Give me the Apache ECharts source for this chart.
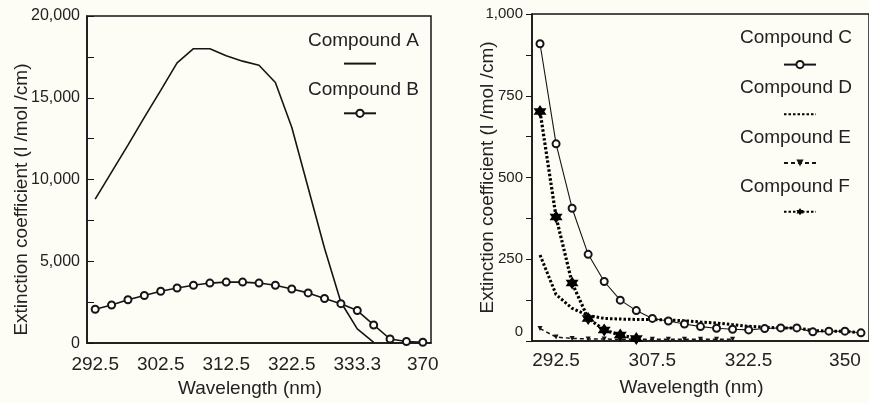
<!DOCTYPE html>
<html>
<head>
<meta charset="utf-8">
<script src="https://cdn.jsdelivr.net/npm/echarts@6/dist/echarts.min.js"></script>
<style>
  html, body { margin: 0; background: #fdfdf6; }
  #chart { width: 869px; height: 403px; }
</style>
</head>
<body>
<div id="chart"></div>
<script>
// left panel
const wavelengthsAB = ['292.5', '295', '297.5', '300', '302.5', '305', '307.5', '310', '312.5', '315', '317.5',
  '320', '322.5', '325', '327.5', '330', '333.3', '340', '350', '360', '370'];
const compoundA = [8800, 10450, 12100, 13800, 15450, 17130, 18000, 18000, 17570, 17240, 16990,
  15930, 13200, 9500, 5800, 2500, 870, 50, null, null, null];
const compoundB = [2070, 2330, 2650, 2910, 3170, 3370, 3540, 3670, 3730, 3730, 3670,
  3540, 3310, 3070, 2730, 2410, 1990, 1110, 250, 100, 50];

// right panel
const wavelengthsCF = ['290', '292.5', '295', '297.5', '300', '302.5', '305', '307.5', '310', '312.5', '315',
  '317.5', '320', '322.5', '325', '327.5', '330', '333.3', '340', '350', '360'];
const compoundC = [909, 603, 406, 265, 182, 125, 93, 69, 61, 52, 44, 39, 36, 34, 38, 40, 40, 28, 30, 30, 25];
const compoundD = [263, 142, 100, 78, 69, 67, 66, 66, 64, 62, 58, 55, 50, 45, 42, 40, 40, 32, 30, 30, 25];
const compoundE = [38, 12, 8, 6, 6, 5, 5, 5, 5, 5, 5, 5, 5, null, null, null, null, null, null, null, null];
const compoundF = [702, 379, 177, 69, 34, 18, 8, null, null, null, null, null, null, null, null, null, null, null, null, null, null];

const font = 'Liberation Sans, Arial, sans-serif';
const ink = '#151515';
const star = 'path://M0,-10L2.89,-5L8.66,-5L5.77,0L8.66,5L2.89,5L0,10L-2.89,5L-8.66,5L-5.77,0L-8.66,-5L-2.89,-5Z';

const chart = echarts.init(document.getElementById('chart'));

function fmt(v) {
  return v.toString().replace(/\B(?=(\d{3})+(?!\d))/g, ',');
}

const textLegend = (left, top, gap, names) => ({
  left: left, top: top, orient: 'vertical', itemWidth: 0, itemHeight: 0, itemGap: gap,
  selectedMode: false, data: names,
  textStyle: { fontFamily: font, fontSize: 19, lineHeight: 20, color: '#222' }
});
const iconLegend = (left, top, gap, names) => ({
  left: left, top: top, orient: 'vertical', itemWidth: 32, itemHeight: 9, itemGap: gap,
  selectedMode: false, formatter: () => '',
  // lines without markers get no dot in their key
  data: names.map((n) => (n === 'Compound A' || n === 'Compound D' ? { name: n, itemStyle: { opacity: 0 } } : n)),
  textStyle: { fontSize: 9, lineHeight: 9 }
});

chart.setOption({
  backgroundColor: '#fdfdf6',
  animation: false,
  grid: [
    { left: 87, top: 16, right: 438, bottom: 55, show: true, borderColor: ink, borderWidth: 1.5 },
    { left: 532, top: 14, right: -1, bottom: 62, show: true, borderColor: ink, borderWidth: 1.5 }
  ],
  legend: [
    textLegend(297, 26, 29, ['Compound A', 'Compound B']),
    iconLegend(338, 55, 41.5, ['Compound A', 'Compound B']),
    textLegend(729, 23, 29.7, ['Compound C', 'Compound D', 'Compound E', 'Compound F']),
    iconLegend(778, 55, 41.5, ['Compound C', 'Compound D', 'Compound E', 'Compound F'])
  ],
  xAxis: [
    {
      type: 'category', gridIndex: 0, data: wavelengthsAB, boundaryGap: true,
      axisLine: { lineStyle: { color: ink, width: 1.5 } },
      axisTick: { inside: true, length: 8, interval: 3, alignWithLabel: true, lineStyle: { color: ink } },
      axisLabel: { interval: 3, margin: 12, fontFamily: font, fontSize: 19, color: '#222' },
      name: 'Wavelength (nm)', nameLocation: 'middle', nameGap: 30,
      nameTextStyle: { fontFamily: font, fontSize: 19, color: '#222', padding: [0, 18, 0, 0] }
    },
    {
      type: 'category', gridIndex: 0, data: wavelengthsAB, boundaryGap: true, position: 'bottom',
      axisLine: { show: false },
      axisTick: { inside: true, length: 4, interval: 0, alignWithLabel: true, lineStyle: { color: ink } },
      axisLabel: { show: false }
    },
    {
      type: 'category', gridIndex: 1, data: wavelengthsCF, boundaryGap: true,
      axisLine: { lineStyle: { color: ink, width: 1.5 } },
      axisTick: { inside: true, length: 7, interval: (i) => i % 6 === 1, alignWithLabel: true, lineStyle: { color: ink } },
      axisLabel: { interval: (i) => i % 6 === 1, margin: 10, fontFamily: font, fontSize: 19, color: '#222' },
      name: 'Wavelength (nm)', nameLocation: 'middle', nameGap: 37,
      nameTextStyle: { fontFamily: font, fontSize: 19, color: '#222', padding: [0, 18, 0, 0] }
    },
    {
      type: 'category', gridIndex: 1, data: wavelengthsCF, boundaryGap: true, position: 'bottom',
      axisLine: { show: false },
      axisTick: { inside: true, length: 4, interval: 0, alignWithLabel: true, lineStyle: { color: ink } },
      axisLabel: { show: false }
    }
  ],
  yAxis: [
    {
      type: 'value', gridIndex: 0, min: 0, max: 20000, interval: 2500,
      splitLine: { show: false },
      axisLine: { show: true, lineStyle: { color: ink, width: 1.5 } },
      axisTick: { show: true, inside: true, length: 7, lineStyle: { color: ink } },
      axisLabel: {
        margin: 7, fontFamily: font, fontSize: 16, color: '#222',
        formatter: (v) => (v % 5000 === 0 ? fmt(v) : '')
      },
      name: 'Extinction coefficient (l /mol /cm)', nameLocation: 'middle', nameGap: 56, nameMoveOverlap: false,
      nameTextStyle: { fontFamily: font, fontSize: 19, color: '#222', padding: [0, 40, 0, 0] }
    },
    {
      type: 'value', gridIndex: 1, min: 0, max: 1000, interval: 125,
      splitLine: { show: false },
      axisLine: { show: true, lineStyle: { color: ink, width: 1.5 } },
      axisTick: { show: true, inside: false, length: 6, lineStyle: { color: ink } },
      axisLabel: {
        margin: 9, fontFamily: font, fontSize: 15, color: '#222',
        formatter: (v) => (v === 0 ? '{z|0}' : v % 250 === 0 ? fmt(v) : ''),
        rich: { z: { fontFamily: font, fontSize: 15, color: '#222', padding: [0, 0, 18, 0] } }
      },
      name: 'Extinction coefficient (l /mol /cm)', nameLocation: 'middle', nameGap: 35, nameMoveOverlap: false,
      nameTextStyle: { fontFamily: font, fontSize: 19, color: '#222' }
    }
  ],
  series: [
    {
      name: 'Compound A', type: 'line', xAxisIndex: 0, yAxisIndex: 0, data: compoundA,
      symbol: 'none', color: ink, lineStyle: { color: ink, width: 1.6 }
    },
    {
      name: 'Compound B', type: 'line', xAxisIndex: 0, yAxisIndex: 0, data: compoundB,
      symbol: 'emptyCircle', symbolSize: 7, showAllSymbol: true, color: ink,
      lineStyle: { color: ink, width: 1.6 }, itemStyle: { borderWidth: 1.2 }
    },
    {
      name: 'Compound C', type: 'line', xAxisIndex: 2, yAxisIndex: 1, data: compoundC,
      symbol: 'emptyCircle', symbolSize: 7, showAllSymbol: true, color: ink,
      lineStyle: { color: ink, width: 1.1 }, itemStyle: { borderWidth: 1 }
    },
    {
      name: 'Compound D', type: 'line', xAxisIndex: 2, yAxisIndex: 1, data: compoundD,
      symbol: 'none', color: '#000', lineStyle: { color: '#000', width: 3, type: [2.5, 2] }
    },
    {
      name: 'Compound E', type: 'line', xAxisIndex: 2, yAxisIndex: 1, data: compoundE,
      symbol: 'triangle', symbolRotate: 180, symbolSize: 5, showAllSymbol: true, color: ink,
      lineStyle: { color: ink, width: 1.5, type: [4, 3] }
    },
    {
      name: 'Compound F', type: 'line', xAxisIndex: 2, yAxisIndex: 1, data: compoundF,
      symbol: star, symbolSize: 13, showAllSymbol: true, color: '#000',
      lineStyle: { color: '#000', width: 3.2, type: [2.5, 2] }
    }
  ]
});

window.onresize = function () {
  chart.resize();
};
</script>
</body>
</html>
